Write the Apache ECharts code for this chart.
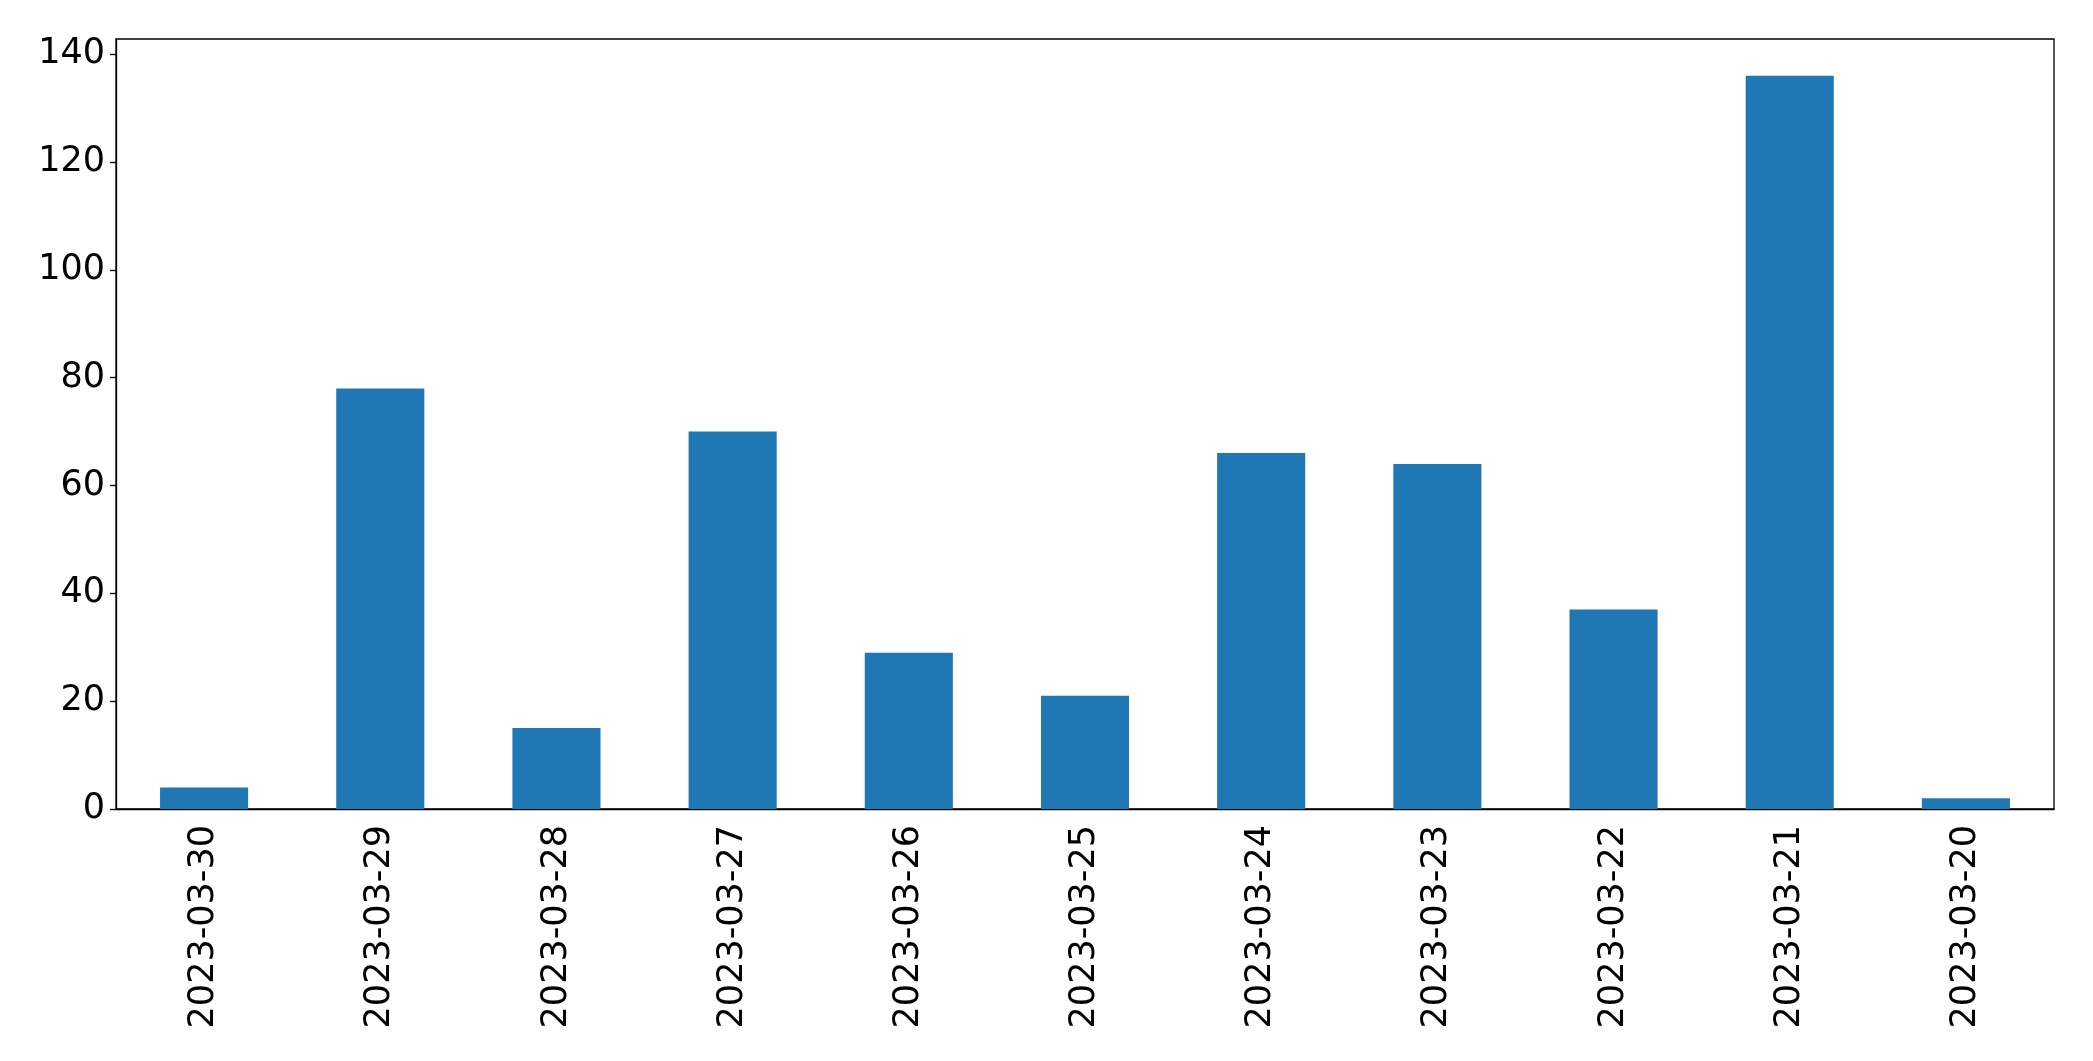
<!DOCTYPE html>
<html>
<head>
<meta charset="utf-8">
<script src="https://cdn.jsdelivr.net/npm/echarts@6/dist/echarts.min.js"></script>
<style>
  html, body { margin: 0; padding: 0; background: #fff; }
  #chart { width: 2093px; height: 1061px; }
</style>
</head>
<body>
<div id="chart"></div>
<script>
// dates, in the order they appear on the axis
const dates = ['2023-03-30', '2023-03-29', '2023-03-28', '2023-03-27', '2023-03-26',
  '2023-03-25', '2023-03-24', '2023-03-23', '2023-03-22', '2023-03-21', '2023-03-20'];
const counts = [4, 78, 15, 70, 29, 21, 66, 64, 37, 136, 2];
const yTicks = [0, 20, 40, 60, 80, 100, 120, 140];

const font = 'DejaVu Sans';
const chart = echarts.init(document.getElementById('chart'));
chart.setOption({
  animation: false,
  backgroundColor: '#fff',
  grid: {
    left: 116, right: 39, top: 39, bottom: 252,
    show: true, borderColor: '#000', borderWidth: 1.3,
    backgroundColor: 'transparent'
  },
  xAxis: {
    type: 'category',
    data: dates,
    axisLine: { lineStyle: { color: '#000', width: 1.3 } },
    axisTick: { alignWithLabel: true, length: 6, lineStyle: { color: '#000', width: 1.3 } },
    axisLabel: {
      rotate: 90, margin: 16, interval: 0,
      color: '#000', fontSize: 35, fontFamily: font
    },
    splitLine: { show: false }
  },
  yAxis: {
    type: 'value',
    min: 0,
    max: 142.8,
    axisLine: { show: true, lineStyle: { color: '#000', width: 1.3 } },
    axisTick: { show: true, length: 6, customValues: yTicks, lineStyle: { color: '#000', width: 1.3 } },
    axisLabel: {
      customValues: yTicks, margin: 11,
      color: '#000', fontSize: 35, fontFamily: font
    },
    splitLine: { show: false }
  },
  series: [{
    type: 'bar',
    data: counts,
    barWidth: '50%',
    itemStyle: { color: '#1f77b4' }
  }]
});
</script>
</body>
</html>
